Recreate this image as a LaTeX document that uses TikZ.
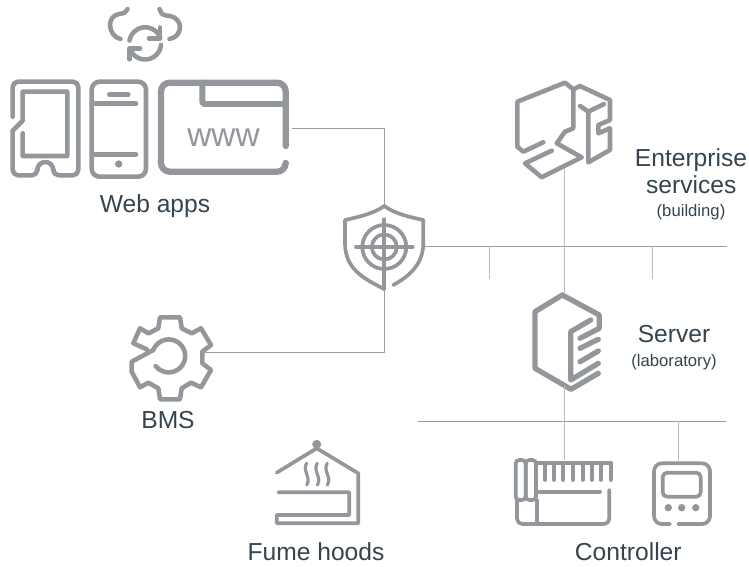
\documentclass[tikz,border=0pt]{standalone}
\usepackage{fontspec}
\setmainfont{Liberation Sans}
\definecolor{icongray}{HTML}{93969B}
\definecolor{wiredark}{HTML}{9A9DA2}
\definecolor{wirelight}{HTML}{BCBEC2}
\definecolor{labelink}{HTML}{35444F}
\begin{document}
\begin{tikzpicture}[scale=0.2]
\tikzstyle{every node}+=[inner sep=0pt]
\tikzstyle{icon}=[draw=icongray, line width=2.6pt, line cap=round, line join=round]
\tikzstyle{thinicon}=[icon, line width=2.1pt]
\tikzstyle{wiredk}=[draw=wiredark, line width=0.6pt]
\tikzstyle{wirelt}=[draw=wirelight, line width=0.8pt]
\tikzstyle{biglabel}=[anchor=base, text=labelink, font=\fontsize{14}{16}\selectfont]
\tikzstyle{smalllabel}=[anchor=base, text=labelink, font=\fontsize{9.5}{11}\selectfont]
\useasboundingbox (0,0) rectangle (74.9,-56.7);
\draw [icon] (12.75,-.9) .. controls (12.5,-1.3) .. (11.9,-1.4) .. controls (11.3,-1.5) and (11,-2) .. (11,-2.5) .. controls (11,-3.2) and (11.5,-3.8) .. (12.05,-3.9);
\draw [icon] (15.95,-.9) .. controls (16.2,-1.5) .. (17,-1.6) .. controls (17.6,-1.7) and (18,-2.2) .. (18,-2.7) .. controls (18,-3.3) and (17.6,-3.8) .. (16.95,-3.9);
\draw [icon] (12.95,-4.05) arc (170:20:1.6);
\draw [icon] (14.9,-3.83) -- (16,-3.83) -- (16,-2.75);
\draw [icon] (16.1,-4.49) arc (-5:-150:1.6);
\draw [icon] (14,-4.85) -- (12.93,-4.85) -- (12.93,-5.93);
\draw [icon, rounded corners=3pt] (1.27,-11.67) -- (1.27,-8.17) -- (7.83,-8.17) -- (7.83,-17.53) -- (5.33,-17.53) -- (5.33,-17);
\draw [icon] (5.33,-17) arc (0:180:.8);
\draw [icon, rounded corners=3pt] (3.73,-17) -- (3.73,-17.53) -- (1.27,-17.53) -- (1.27,-13.07);
\draw [icon, line join=round] (1.27,-13.07) -- (2.27,-12.07) -- (2.27,-9.17) -- (6.73,-9.17) -- (6.73,-15.6) -- (2.27,-15.6) -- (2.27,-13.33);
\draw [icon, rounded corners=4.5pt] (9.17,-8.17) rectangle (14.6,-17.67);
\draw [icon] (10.93,-9.43) -- (12.83,-9.43);
\draw [icon] (9.5,-10.37) -- (13.6,-10.37);
\draw [icon] (9.5,-15.43) -- (13.6,-15.43);
\fill [icongray] (11.87,-16.4) circle (.37);
\draw [icon, line width=3.6pt, rounded corners=5pt] (28.57,-14.6) -- (28.57,-8.27) -- (16.1,-8.27) -- (16.1,-17.17) -- (28.57,-17.17) -- (28.57,-16.3);
\draw [icon, line width=3.4pt, rounded corners=1pt] (20.23,-8.27) -- (20.23,-10.4) -- (28.57,-10.4);
\node (www) at (22.35,-14.65) [anchor=base, text=icongray, font=\fontsize{19}{20}\selectfont] {www};
\draw [thinicon] (38.43,-20.6) .. controls (37.3,-21.4) and (35.8,-21.7) .. (34.5,-22) -- (34.5,-24.3) .. controls (34.5,-26.8) and (36.2,-27.8) .. (38.43,-28.9);
\draw [thinicon] (38.43,-20.6) .. controls (39.5,-21.4) and (41,-21.7) .. (42.33,-22) -- (42.33,-24.3) .. controls (42.33,-26.5) and (40.8,-27.7) .. (39.33,-28.5);
\draw [thinicon] (38.43,-24.7) circle (2.2);
\draw [thinicon] (38.43,-24.7) circle (1.25);
\draw [thinicon] (35.6,-24.7) -- (41.27,-24.7);
\draw [thinicon] (38.43,-21.93) -- (38.43,-28.9);
\draw [icon] (14.67,-34.93) -- (13.33,-34.33) -- (14,-32.83) -- (14.83,-33.33) -- (15.83,-32.83) -- (16,-31.73) -- (18,-31.73) -- (18.17,-32.83) -- (19.17,-33.33) -- (20.1,-32.83) -- (21.1,-34.5) -- (20.23,-35.17) -- (20.23,-36.33) -- (21.1,-37) -- (20.1,-38.73) -- (19.1,-38.27) -- (18.17,-38.83) -- (18,-39.93) -- (16,-39.93) -- (15.83,-38.83) -- (14.83,-38.27) -- (14,-38.73) -- (13.17,-37.17) -- (13.17,-36.17) -- (15.33,-35) arc (159:-142:1.65);
\draw [thinicon] (27.67,-47.27) -- (31.67,-44.83) -- (35.83,-47.33) -- (35.83,-52.33) -- (27.67,-52.33) -- (27.67,-51.5) -- (34.93,-51.5) -- (34.93,-49.23) -- (27.83,-49.23);
\fill [icongray] (31.67,-44.43) circle (.45);
\foreach \s in {30.67,31.73,32.73}
  \draw [thinicon, line width=1.8pt] (\s,-46.33) .. controls (\s-.5,-47) and (\s+.5,-47.8) .. (\s,-48.5);
\draw [icon] (54.33,-14.23) -- (52.33,-15.17) -- (51.73,-14.67) -- (51.73,-10.17) -- (56.5,-8.27) -- (57.33,-8.93) -- (57.33,-12.83) -- (56.5,-13.17) -- (55.67,-14.33) -- (58.17,-15.73) -- (54.17,-17.73) -- (52.5,-16.33) -- (55.17,-15.07);
\draw [icon] (57.33,-8.93) -- (58,-8.6) -- (61,-10) -- (61,-12) -- (59.83,-12.5) -- (59.83,-13.33) -- (61,-12.83) -- (61,-15) -- (58.83,-16.23) -- (58.83,-11.17) -- (58,-10.6);
\draw [icon] (58.83,-11.17) -- (60.4,-10.4);
\draw [icon, line width=3pt] (56.23,-29.5) -- (59.93,-31.5) -- (59.93,-32.83) -- (58,-33.83);
\draw [icon, line width=3pt] (59.83,-33.93) -- (58,-34.83);
\draw [icon, line width=3pt] (59.83,-35.1) -- (58,-36.17);
\draw [icon, line width=3pt] (59.83,-37.33) -- (57.1,-38.93) -- (53.5,-36.83) -- (53.5,-31.17) -- (56.23,-29.5);
\draw [icon, line width=3pt] (59.07,-32) -- (57.07,-33.17) -- (57.07,-38) -- (59.83,-36.33);
\draw [thinicon, rounded corners=2pt] (51.57,-46) rectangle (52.57,-50);
\draw [thinicon, rounded corners=2pt] (52.57,-46) rectangle (53.6,-50);
\draw [thinicon, rounded corners=3pt] (51.7,-50) -- (51.7,-52.4) -- (60.93,-52.4) -- (60.93,-49);
\draw [thinicon] (53.67,-50) -- (53.67,-52.4);
\draw [thinicon] (53.83,-49.17) -- (60,-49.17);
\draw [thinicon] (53.6,-46.27) -- (61.07,-46.27);
\foreach \t in {54.5,55.4,56.33,57.27,58.27,59.17,60.07,61.07}
  \draw [thinicon] (\t,-46.27) -- (\t,-48);
\draw [thinicon, rounded corners=4.5pt] (67,-52.4) -- (65.4,-52.4) -- (65.4,-46.33) -- (71,-46.33) -- (71,-52.4) -- (67.83,-52.4);
\draw [thinicon, rounded corners=2.5pt] (66.27,-47.27) rectangle (70.07,-49.67);
\foreach \d in {66.83,68.17,69.57}
  \fill [icongray] (\d,-50.77) circle (.37);
\coordinate (browserport) at (29.2,-12.85);
\coordinate (shieldtop) at (38.45,-20.6);
\coordinate (shieldbase) at (38.45,-28.9);
\coordinate (shieldport) at (42.4,-24.65);
\coordinate (buildingend) at (72.7,-24.65);
\coordinate (tapleft) at (48.95,-24.65);
\coordinate (tapleftend) at (48.95,-27.9);
\coordinate (tapright) at (65.25,-24.65);
\coordinate (taprightend) at (65.25,-27.9);
\coordinate (gearport) at (20.5,-35.25);
\coordinate (deskbase) at (56.45,-16.9);
\coordinate (servertop) at (56.45,-29.4);
\coordinate (serverbase) at (56.45,-38.6);
\coordinate (labstart) at (41.8,-42.15);
\coordinate (labend) at (72.6,-42.15);
\coordinate (ctrltop) at (56.45,-46);
\coordinate (tapctrl) at (67.85,-42.15);
\coordinate (panelel) at (67.85,-46.2);
\draw [wiredk] (browserport) -| (shieldtop);
\draw [wiredk] (shieldbase) |- (gearport);
\draw [wiredk] (shieldport) -- (buildingend);
\draw [wirelt] (tapleft) -- (tapleftend);
\draw [wirelt] (tapright) -- (taprightend);
\draw [wirelt] (deskbase) -- (servertop);
\draw [wirelt] (serverbase) -- (ctrltop);
\draw [wiredk] (labstart) -- (labend);
\draw [wirelt] (tapctrl) -- (panelel);
\node (webapps) at (15.5,-21.27) [biglabel] {Web apps};
\node (enterprise) at (69.1,-16.67) [biglabel] {Enterprise};
\node (services) at (69.13,-19.4) [biglabel] {services};
\node (building) at (69.1,-21.7) [smalllabel] {(building)};
\node (server) at (67.4,-34.3) [biglabel] {Server};
\node (laboratory) at (67.4,-36.7) [smalllabel] {(laboratory)};
\node (bms) at (16.8,-42.8) [biglabel] {BMS};
\node (fumehoods) at (31.6,-56.07) [biglabel] {Fume hoods};
\node (controller) at (62.83,-56.07) [biglabel] {Controller};
\end{tikzpicture}
\end{document}
